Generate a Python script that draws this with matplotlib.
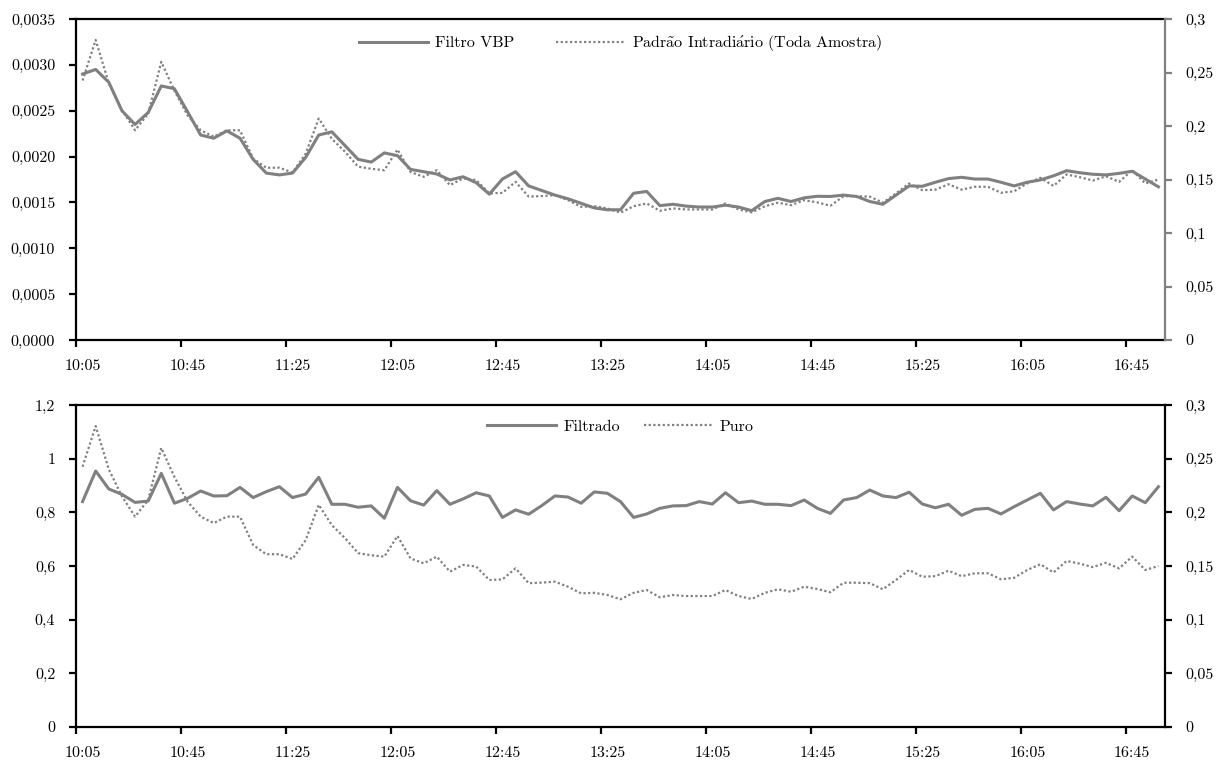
import matplotlib
matplotlib.use("Agg")
import matplotlib.pyplot as plt
import numpy as np

# ---------------- data ----------------
tick_labels = ["10:05", "10:45", "11:25", "12:05", "12:45", "13:25",
               "14:05", "14:45", "15:25", "16:05", "16:45"]

# Filtro VBP (top panel, left axis)
vbp = [0.00290, 0.00295, 0.00281, 0.00250, 0.00235, 0.00248, 0.00277, 0.00274, 0.00249, 0.002235,
       0.00220, 0.00228, 0.00220, 0.00197, 0.00182, 0.00180, 0.00182, 0.00199, 0.002235, 0.00227,
       0.00212, 0.00197, 0.00194, 0.00204, 0.00201, 0.00186, 0.001835, 0.00181,
       0.001745, 0.00178, 0.001715, 0.00159, 0.001755, 0.001835, 0.00168, 0.00163, 0.00158, 0.00154,
       0.00149, 0.00144, 0.00142, 0.00142, 0.00160, 0.00162, 0.001465, 0.00148, 0.00146, 0.00145,
       0.00145, 0.00147, 0.00145, 0.00141, 0.00151, 0.001545, 0.00151,
       0.00155, 0.001567, 0.001565, 0.00158, 0.001565, 0.00151, 0.00148, 0.00158, 0.00168, 0.001676,
       0.00172, 0.00176, 0.001774, 0.001755, 0.001755, 0.00172, 0.00168, 0.00172, 0.001745, 0.00179,
       0.001846, 0.001824, 0.001807, 0.00180, 0.001817, 0.00184, 0.001755, 0.00167]

# Padrão Intradiário (Toda Amostra) / Puro (right axis, both panels)
padrao = [0.2425, 0.2804, 0.240, 0.215, 0.196, 0.2115, 0.260, 0.233, 0.210, 0.196,
          0.190, 0.196, 0.196, 0.1696, 0.161, 0.161, 0.1565, 0.174, 0.207, 0.188,
          0.176, 0.162, 0.160, 0.1587, 0.178, 0.157, 0.1525, 0.1587,
          0.1447, 0.151, 0.1495, 0.137, 0.1375, 0.1478, 0.134, 0.1345, 0.1354, 0.1307,
          0.1245, 0.125, 0.123, 0.119, 0.125, 0.1276, 0.1208, 0.123, 0.122, 0.122,
          0.122, 0.1276, 0.122, 0.1193, 0.125, 0.1283, 0.126,
          0.1307, 0.1286, 0.1255, 0.1344, 0.1344, 0.134, 0.1283, 0.137, 0.1463, 0.140,
          0.1405, 0.1456, 0.1405, 0.1432, 0.1432, 0.1376, 0.139, 0.1463, 0.1516, 0.144,
          0.1547, 0.1522, 0.149, 0.153, 0.1478, 0.1587, 0.1463, 0.150]

# Filtrado (bottom panel, left axis)
filtrado = [0.840, 0.954, 0.887, 0.867, 0.837, 0.842, 0.945, 0.834, 0.852, 0.8795,
            0.861, 0.862, 0.893, 0.855, 0.877, 0.8955, 0.855, 0.868, 0.9305, 0.830,
            0.830, 0.819, 0.824, 0.778, 0.893, 0.843, 0.827, 0.881,
            0.830, 0.850, 0.873, 0.861, 0.781, 0.809, 0.793, 0.825, 0.861, 0.857,
            0.834, 0.876, 0.871, 0.840, 0.781, 0.794, 0.815, 0.824, 0.825, 0.840,
            0.831, 0.873, 0.836, 0.842, 0.830, 0.830, 0.825,
            0.846, 0.815, 0.796, 0.846, 0.855, 0.883, 0.861, 0.855, 0.875, 0.831,
            0.817, 0.830, 0.789, 0.811, 0.815, 0.794, 0.821, 0.846, 0.871, 0.809,
            0.840, 0.831, 0.824, 0.856, 0.806, 0.861, 0.836, 0.8955]

top_left_ticks = [0, 0.0005, 0.0010, 0.0015, 0.0020, 0.0025, 0.0030, 0.0035]
top_left_labels = ["0,0000", "0,0005", "0,0010", "0,0015", "0,0020", "0,0025", "0,0030", "0,0035"]
right_ticks = [0, 0.05, 0.1, 0.15, 0.2, 0.25, 0.3]
right_labels = ["0", "0,05", "0,1", "0,15", "0,2", "0,25", "0,3"]
bot_left_ticks = [0, 0.2, 0.4, 0.6, 0.8, 1.0, 1.2]
bot_left_labels = ["0", "0,2", "0,4", "0,6", "0,8", "1", "1,2"]

# ---------------- style ----------------
plt.rcParams['font.family'] = ['cmr10', 'DejaVu Serif']
plt.rcParams['font.size'] = 11.5
plt.rcParams['axes.unicode_minus'] = False
plt.rcParams['axes.formatter.use_mathtext'] = True
plt.rcParams['mathtext.fontset'] = 'cm'

GRAY = '#808080'
SPW = 1.6

n = len(vbp)
x = np.arange(n)

W, H = 1226, 760
fig = plt.figure(figsize=(W / 100, H / 100), dpi=100)
ax1 = fig.add_axes([76 / W, 1 - 340 / H, 1089 / W, 321 / H])
ax1r = ax1.twinx()
ax2 = fig.add_axes([76 / W, 1 - 727 / H, 1089 / W, 322 / H])
ax2r = ax2.twinx()


def style(ax, axr, right_color, lticks, llabels):
    ax.set_xlim(-0.5, n - 0.5)
    ax.set_xticks(np.arange(-0.5, n - 0.5, 8))
    ax.set_xticklabels([])
    ax.set_xticks(np.arange(0, n, 8), minor=True)
    ax.set_xticklabels(tick_labels, minor=True)
    ax.tick_params(axis='x', which='major', direction='out', length=5, width=SPW, color='black')
    ax.tick_params(axis='x', which='minor', length=0, pad=14)
    ax.set_ylim(lticks[0], lticks[-1])
    ax.set_yticks(lticks)
    ax.set_yticklabels(llabels)
    ax.tick_params(axis='y', direction='out', length=5, width=SPW, pad=10)
    axr.set_ylim(0, 0.3)
    axr.set_yticks(right_ticks)
    axr.set_yticklabels(right_labels)
    axr.tick_params(axis='y', direction='out', length=5, width=SPW, pad=10, color=right_color)
    for s in ['left', 'bottom', 'top']:
        ax.spines[s].set_linewidth(SPW)
        ax.spines[s].set_color('black')
        axr.spines[s].set_visible(False)
    ax.spines['right'].set_visible(False)
    axr.spines['right'].set_linewidth(SPW)
    axr.spines['right'].set_color(right_color)


style(ax1, ax1r, GRAY, top_left_ticks, top_left_labels)
style(ax2, ax2r, 'black', bot_left_ticks, bot_left_labels)

dot_style = (0, (1, 1.1))
LW = 2.2

l1, = ax1.plot(x, vbp, color=GRAY, lw=LW, solid_joinstyle='round', label='Filtro VBP')
l2, = ax1r.plot(x, padrao, color=GRAY, lw=1.6, linestyle=dot_style,
                label=r'Padr$\mathrm{\tilde{a}}$o Intradi$\mathrm{\acute{a}}$rio (Toda Amostra)')
ax1r.legend(handles=[l1, l2], loc='upper center', ncol=2, frameon=False,
            handlelength=4.3, handletextpad=0.45, columnspacing=2.6)

l3, = ax2.plot(x, filtrado, color=GRAY, lw=LW, solid_joinstyle='round', label='Filtrado')
l4, = ax2r.plot(x, padrao, color=GRAY, lw=1.6, linestyle=dot_style, label='Puro')
ax2r.legend(handles=[l3, l4], loc='upper center', ncol=2, frameon=False,
            handlelength=4.3, handletextpad=0.45, columnspacing=1.5)

fig.savefig('out.png', dpi=100)
